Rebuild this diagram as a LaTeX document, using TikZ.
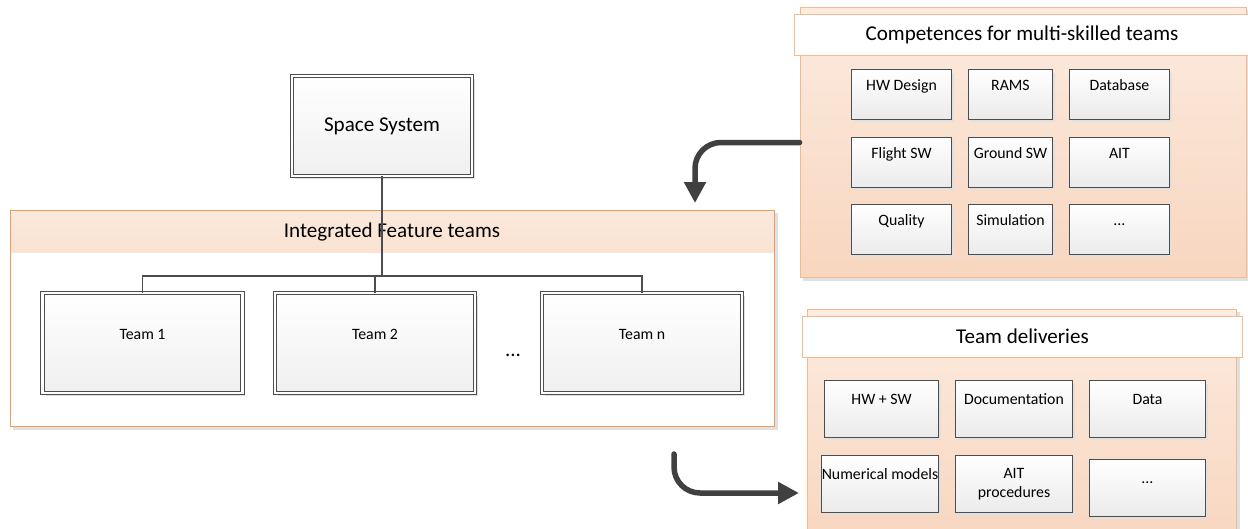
\documentclass[tikz,border=0pt]{standalone}
\usepackage{fontspec}
\setmainfont{Carlito}
\usetikzlibrary{arrows.meta, positioning, shadows}
\usepackage{xcolor}

\definecolor{panelfill}{HTML}{FCEBDF}
\definecolor{panelfilldark}{HTML}{F8D6BF}
\definecolor{panelline}{HTML}{F4B98F}
\definecolor{teamline}{HTML}{EE9A5A}
\definecolor{bandtop}{HTML}{FBE9DC}
\definecolor{bandbottom}{HTML}{F5C8A6}
\definecolor{boxline}{HTML}{4D4D4D}
\definecolor{arrowgray}{HTML}{404040}

\begin{document}
\begin{tikzpicture}[
    x=0.02cm, y=-0.02cm,
    node distance=0.32cm,
    every node/.style={inner sep=0pt, font=\fontsize{9}{10.5}\selectfont},
    shadowed/.style={general shadow={fill=black!12, shadow xshift=0.06cm, shadow yshift=-0.06cm}},
    panel/.style={draw=panelline, line width=0.02cm, top color=panelfill, bottom color=panelfilldark, shadowed},
    titlebar/.style={draw=panelline, line width=0.02cm, fill=white, minimum height=0.82cm, font=\fontsize{12}{14}\selectfont},
    featurepanel/.style={draw=teamline, line width=0.02cm, fill=white, shadowed,
        path picture={\shade[top color=bandtop, bottom color=bandbottom]
            (path picture bounding box.north west) rectangle ([yshift=-0.84cm]path picture bounding box.north east);}},
    gbox/.style={draw=boxline, line width=0.02cm, top color=white, bottom color=black!8, shadowed, align=center},
    skill/.style={gbox, minimum width=2cm, text height=0.42cm, text depth=0.58cm},
    delivbox/.style={gbox, minimum width=2.32cm, text height=0.48cm, text depth=0.66cm},
    framed/.style={draw=boxline, line width=0.018cm, double=white, double distance=0.05cm, top color=white, bottom color=black!6, shadowed},
    team/.style={framed, minimum width=4cm, text height=0.92cm, text depth=1.08cm},
    flow/.style={-{Triangle[width=0.42cm, length=0.42cm]}, draw=arrowgray, line width=0.11cm, rounded corners=0.52cm, line cap=round},
    treeline/.style={draw=boxline, line width=0.026cm}
]
\useasboundingbox (0,0) rectangle (1248,528);

\node[panel, minimum width=8.94cm, minimum height=5.42cm] (comp) at (1023.5,142.5) {};
\node[titlebar, minimum width=9.12cm] (comptitle) at (1022,34.5) {Competences for multi-skilled teams};
\node[skill, anchor=north west] (hwdesign) at (851,69) {HW Design};
\node[skill, minimum width=1.68cm, right=of hwdesign] (rams) {RAMS};
\node[skill, right=of rams] (database) {Database};
\node[skill, below=0.34cm of hwdesign] (flightsw) {Flight SW};
\node[skill, minimum width=1.68cm, right=of flightsw] (groundsw) {Ground SW};
\node[skill, right=of groundsw] (ait) {AIT};
\node[skill, below=of flightsw] (quality) {Quality};
\node[skill, minimum width=1.68cm, right=of quality] (simulation) {Simulation};
\node[skill, right=of simulation] (moreskills) {...};

\node[panel, minimum width=8.6cm, minimum height=4.72cm] (deliv) at (1022,427) {};
\node[titlebar, minimum width=8.82cm] (delivtitle) at (1022.5,336.5) {Team deliveries};
\node[delivbox, minimum width=2.28cm, anchor=north west] (hwsw) at (824,380) {HW + SW};
\node[delivbox, minimum width=2.34cm, right=of hwsw] (docs) {Documentation};
\node[delivbox, right=of docs] (data) {Data};
\node[delivbox, minimum width=2.34cm, anchor=north west] (nummodels) at (821,455) {Numerical models};
\node[gbox, minimum width=2.34cm, minimum height=1.16cm, right=of nummodels] (aitproc) {AIT\\procedures};
\node[delivbox, right=of aitproc, yshift=-0.08cm] (moredeliv) {...};

\node[featurepanel, minimum width=15.3cm, minimum height=4.34cm] (ift) at (392.5,318.5) {};
\node[font=\fontsize{12}{14}\selectfont] (ifttitle) at (392,232) {Integrated Feature teams};

\node[framed, minimum width=3.6cm, minimum height=2cm, font=\fontsize{12}{14}\selectfont] (space) at (382,126) {Space System};
\node[team] (team1) at (142.5,343) {Team 1};
\node[team] (team2) at (375,343) {Team 2};
\node[team] (teamn) at (642,343) {Team n};
\node[font=\fontsize{12}{14}\selectfont] (teamdots) at (513,355) {...};

\coordinate (fork) at (382,276);
\draw[treeline] (space.south) -- (fork) -| (team1.north);
\draw[treeline] (fork) -| (team2.north);
\draw[treeline] (fork) -| (teamn.north);

\coordinate (compin) at (695,203);
\coordinate (delivout) at (674,454);
\coordinate (delivin) at (799,493);
\draw[flow] (comp.west) -| (compin);
\draw[flow] (delivout) |- (delivin);

\end{tikzpicture}
\end{document}
